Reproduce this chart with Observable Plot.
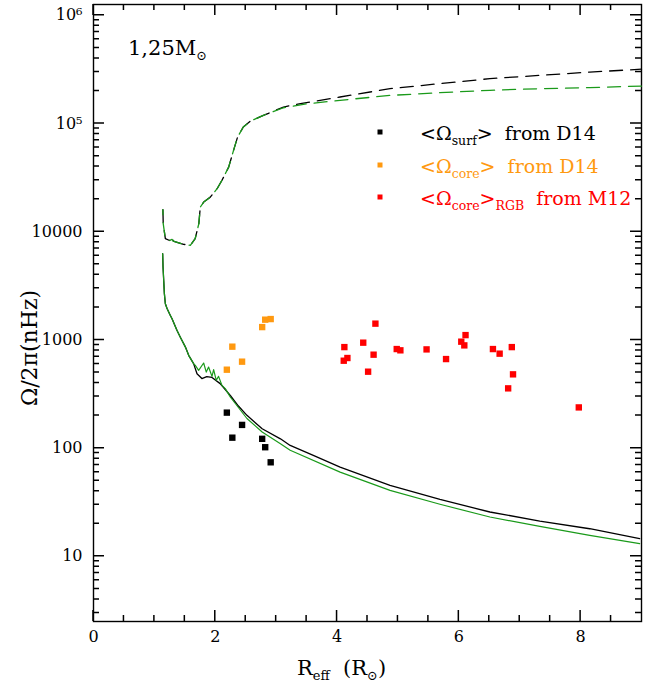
<!DOCTYPE html>
<html><head><meta charset="utf-8">
<script src="https://cdn.jsdelivr.net/npm/d3@7"></script>
<script src="https://cdn.jsdelivr.net/npm/@observablehq/plot@0.6"></script>
<style>body{margin:0;background:#fff}</style>
</head><body><div id="chart"></div>
<script>
// ---- tick definitions ----
const xTicksMajor = [0, 2, 4, 6, 8];
const xTickLabels = ["0", "2", "4", "6", "8"];
const xTicksMinor = [0.5, 1, 1.5, 2.5, 3, 3.5, 4.5, 5, 5.5, 6.5, 7, 7.5, 8.5];
const yTicksMajor = [10, 100, 1000, 10000, 100000, 1000000];
const yTickLabels = ["10", "100", "1000", "10000", "10⁵", "10⁶"];
const yTicksMinor = [3,4,5,6,7,8,9, 20,30,40,50,60,70,80,90, 200,300,400,500,600,700,800,900,
  2000,3000,4000,5000,6000,7000,8000,9000, 20000,30000,40000,50000,60000,70000,80000,90000,
  200000,300000,400000,500000,600000,700000,800000,900000];

// ---- model curves: core (dashed) ----
const coreBlackR = [1.14,1.145,1.18,1.25,1.29,1.31,1.40,1.48,1.59,1.67,1.73,1.754,1.81,1.918,2.03,2.11,2.22,2.30,2.366,2.46,2.574,2.79,3.12,3.4,4.05,4.87,5.69,6.51,7.33,8.15,9.0];
const coreBlackOmega = [16000,11900,8630,8300,9000,8200,7900,7660,7480,8630,11900,16900,18800,20900,25000,29900,39600,56500,75000,92900,105000,119000,142000,153000,176000,210000,234000,260000,279000,299000,318000];
const coreGreenR = [1.14,1.145,1.18,1.25,1.29,1.31,1.40,1.48,1.59,1.67,1.73,1.754,1.81,1.918,2.03,2.11,2.22,2.30,2.366,2.46,2.574,2.79,3.12,3.5,4.05,4.87,5.69,6.51,7.33,8.15,9.0];
const coreGreenOmega = [16000,11900,8630,8300,8500,8200,7900,7660,7480,8630,11900,16900,18800,20900,25000,29900,39600,56500,75000,92900,105000,119000,140000,152000,164000,182000,193000,203000,210000,215000,222000];

// ---- model curves: surface (solid) ----
const surfBlackR = [1.136,1.142,1.153,1.164,1.18,1.208,1.26,1.29,1.37,1.426,1.51,1.563,1.644,1.70,1.78,1.86,1.946,2.08,2.16,2.25,2.38,2.52,2.77,3.07,3.23,3.61,4.05,4.87,5.69,6.51,7.33,8.15,8.97];
const surfBlackOmega = [6270,4720,3560,2680,2160,1950,1690,1570,1230,1060,859,721,604,488,440,458,450,395,350,305,245,201,151,122,106,85.8,66.8,45.3,33.6,25.7,21.2,18.0,14.6];
const surfGreenR = [1.136,1.142,1.153,1.164,1.18,1.208,1.26,1.29,1.37,1.426,1.51,1.563,1.644,1.672,1.727,1.809,1.852,1.89,1.946,1.973,2.016,2.054,2.11,2.164,2.246,2.52,2.77,3.07,3.23,4.05,4.87,5.69,6.51,7.33,8.15,8.97];
const surfGreenOmega = [6270,4720,3560,2680,2160,1950,1690,1570,1230,1060,859,721,604,582,524,612,505,562,461,531,424,461,380,355,297,188,141,110,95.5,60,40.7,30.3,23.1,18.9,15.6,13.1];

// ---- observations ----
const d14SurfR = [2.19,2.28,2.44,2.77,2.82,2.91];
const d14SurfOmega = [213,125,164,122,102,74];
const d14CoreR = [2.19,2.28,2.44,2.77,2.82,2.91];
const d14CoreOmega = [531,867,630,1315,1540,1560];
const m12CoreR = [4.11,4.12,4.17,4.43,4.51,4.60,4.63,4.98,5.04,5.47,5.79,6.04,6.09,6.11,6.56,6.67,6.81,6.87,6.89,7.97];
const m12CoreOmega = [643,859,681,944,509,731,1415,824,802,818,666,964,891,1109,824,747,357,859,481,238];

const colBlack = "#000000", colGreen = "#1a9a1a", colOrange = "#ff9910", colRed = "#ff0000";

const W = 659, H = 684, mL = 93, mR = 18, mT = 4, mB = 63;
const xDomain = [0, 9], yDomain = [2.5, 1.26e6];

const toRows = (rs, ws) => rs.map((r, i) => ({r, w: ws[i]}));

const chart = Plot.plot({
  width: W, height: H,
  marginLeft: mL, marginRight: mR, marginTop: mT, marginBottom: mB,
  style: {fontFamily: "DejaVu Serif", background: "white", color: "black"},
  x: {domain: xDomain},
  y: {type: "log", domain: yDomain},
  marks: [
    Plot.frame({stroke: "black", fill: "none", strokeWidth: 1.4}),
    Plot.axisX({anchor: "bottom", ticks: xTicksMajor, tickSize: 0, tickPadding: 9, fontSize: 16, label: null,
      tickFormat: d => xTickLabels[xTicksMajor.indexOf(d)]}),
    Plot.axisY({anchor: "left", ticks: yTicksMajor, tickSize: 0, tickPadding: 11, fontSize: 16, label: null,
      tickFormat: d => yTickLabels[yTicksMajor.indexOf(d)]}),
    Plot.line(toRows(coreBlackR, coreBlackOmega), {x: "r", y: "w", stroke: colBlack, strokeWidth: 1.3, strokeDasharray: "13,8"}),
    Plot.line(toRows(coreGreenR, coreGreenOmega), {x: "r", y: "w", stroke: colGreen, strokeWidth: 1.3, strokeDasharray: "13,8", strokeDashoffset: 8}),
    Plot.line(toRows(surfBlackR, surfBlackOmega), {x: "r", y: "w", stroke: colBlack, strokeWidth: 1.3}),
    Plot.line(toRows(surfGreenR, surfGreenOmega), {x: "r", y: "w", stroke: colGreen, strokeWidth: 1.2}),
    Plot.dot(toRows(d14SurfR, d14SurfOmega), {x: "r", y: "w", symbol: "square", r: 3.6, fill: colBlack}),
    Plot.dot(toRows(d14CoreR, d14CoreOmega), {x: "r", y: "w", symbol: "square", r: 3.6, fill: colOrange}),
    Plot.dot(toRows(m12CoreR, m12CoreOmega), {x: "r", y: "w", symbol: "square", r: 3.6, fill: colRed})
  ]
});
document.getElementById("chart").appendChild(chart);

const svg = d3.select(chart);

// ---- inward ticks on all four sides (same mapping as the plot's scales) ----
const x0 = mL, x1 = W - mR, y0 = mT, y1 = H - mB;
const sx = d3.scaleLinear(xDomain, [x0, x1]);
const sy = d3.scaleLog(yDomain, [y1, y0]);
const tg = svg.append("g").attr("stroke", "#000").attr("stroke-width", 1.5).attr("fill", "none");
function tickX(v, len) {
  const px = sx(v);
  tg.append("path").attr("d", `M${px},${y1}V${y1 - len}M${px},${y0}V${y0 + len}`);
}
function tickY(v, len) {
  const py = sy(v);
  tg.append("path").attr("d", `M${x0},${py}H${x0 + len}M${x1},${py}H${x1 - len}`);
}
xTicksMajor.forEach(v => tickX(v, 11));
xTicksMinor.forEach(v => tickX(v, 6));
yTicksMajor.forEach(v => tickY(v, 11));
yTicksMinor.forEach(v => tickY(v, 6));

// ---- rich text (subscripts) ----
function rich(x, y, parts, size, color, subSize, shift, anchor) {
  const t = svg.append("text").attr("x", x).attr("y", y)
    .attr("font-family", "DejaVu Serif").attr("font-size", size).attr("fill", color)
    .attr("text-anchor", anchor || "start").style("white-space", "pre");
  let down = false;
  parts.forEach(p => {
    const s = t.append("tspan").text(p.t);
    if (p.sub) { s.attr("font-size", subSize); if (!down) { s.attr("dy", shift); down = true; } }
    else if (down) { s.attr("dy", -shift); down = false; }
  });
  return t;
}
rich(128, 55, [{t: "1,25M"}, {t: "⊙", sub: true}], 21, "black", 13, 5);
rich(297, 675, [{t: "R"}, {t: "eff", sub: true}, {t: "  (R"}, {t: "⊙", sub: true}, {t: ")"}], 21, "black", 13, 5);
svg.append("text").attr("transform", "translate(37,348) rotate(-90)")
  .attr("text-anchor", "middle").attr("font-family", "DejaVu Serif").attr("font-size", 22)
  .text("Ω/2π(nHz)");

// legend
const legend = [
  {c: colBlack, y: 140, parts: [{t: "<Ω"}, {t: "surf", sub: true}, {t: ">  from D14"}]},
  {c: colOrange, y: 173, parts: [{t: "<Ω"}, {t: "core", sub: true}, {t: ">  from D14"}]},
  {c: colRed, y: 205, parts: [{t: "<Ω"}, {t: "core", sub: true}, {t: ">"}, {t: "RGB", sub: true}, {t: "  from M12"}]}
];
legend.forEach(l => {
  svg.append("rect").attr("x", 377.5).attr("y", l.y - 10.5).attr("width", 5).attr("height", 5).attr("fill", l.c);
  rich(420, l.y, l.parts, 19, l.c, 12.5, 5);
});
</script></body></html>
